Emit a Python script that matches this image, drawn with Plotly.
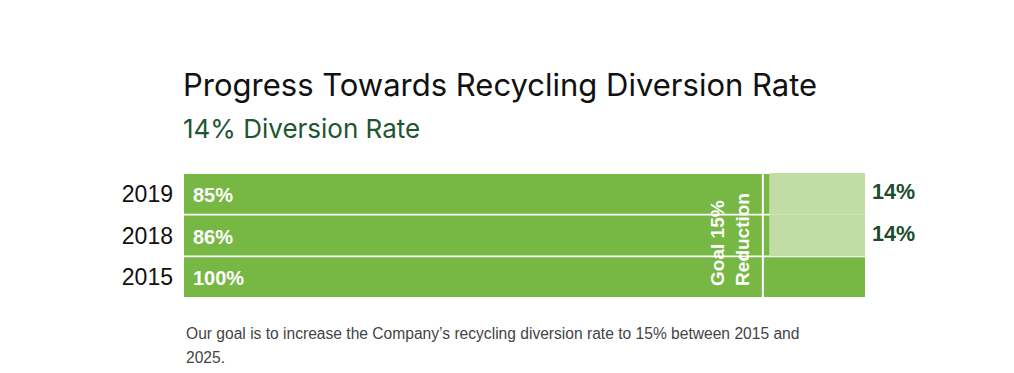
import plotly.graph_objects as go

years = ["2015", "2018", "2019"]
shown_pct = [100, 86, 85]
diversion_pct = [0, 14, 14]
goal_reduction = 15

dark = [100 - d for d in diversion_pct]

DARK = "#76b843"
LIGHT = "#c1dca4"
BODY = 8  # default HTML body margin

PT, PB = 173, 298  # plot top/bottom in page px
PH = PB - PT


def py(p):
    return (PB - p) / PH


fig = go.Figure()
fig.add_trace(go.Bar(
    y=years, x=dark, base=0, orientation="h", width=0.955,
    marker=dict(color=DARK, line=dict(width=0)),
    hoverinfo="skip",
))
fig.add_trace(go.Bar(
    y=[y for y, d in zip(years, diversion_pct) if d > 0],
    x=[d for d in diversion_pct if d > 0],
    base=[b for b, d in zip(dark, diversion_pct) if d > 0],
    orientation="h", width=1.0,
    marker=dict(color=LIGHT, line=dict(width=0)),
    hoverinfo="skip",
))

fig.add_shape(type="line", xref="x", yref="paper", x0=100 - goal_reduction,
              x1=100 - goal_reduction, y0=0, y1=1,
              line=dict(color="white", width=2), layer="above")

for i, (v, d) in enumerate(zip(shown_pct, diversion_pct)):
    fig.add_annotation(x=0, y=i, xref="x", yref="y", text=f"<b>{v}%</b>",
                       showarrow=False, xanchor="left", xshift=7, yshift=-1,
                       font=dict(family="Liberation Sans", size=20, color="white"))
    if d > 0:
        fig.add_annotation(x=100, y=i, xref="x", yref="y", text=f"<b>{d}%</b>",
                           showarrow=False, xanchor="left", xshift=5, yshift=2,
                           font=dict(family="Liberation Sans", size=21.5, color="#1a4d2e"))

fig.add_annotation(x=80.2, y=0.466, xref="x", yref="paper",
                   text=f"<b>Goal {goal_reduction}%<br>Reduction</b>",
                   textangle=-90, align="left", showarrow=False,
                   font=dict(family="Liberation Sans", size=19, color="white"))

fig.add_annotation(x=0, y=py(84), xref="paper", yref="paper",
                   text="Progress Towards Recycling Diversion Rate", showarrow=False,
                   xanchor="left", yanchor="middle", xshift=-3,
                   font=dict(family="Inter", size=31, color="#111111"))
fig.add_annotation(x=0, y=py(129), xref="paper", yref="paper",
                   text="14% Diversion Rate", showarrow=False,
                   xanchor="left", yanchor="middle", xshift=-3,
                   font=dict(family="Inter", size=26, color="#1e5631"))
for line, yy in [("Our goal is to increase the Company\u2019s recycling diversion rate to 15% between 2015 and", 333),
                 ("2025.", 357)]:
    fig.add_annotation(x=0, y=py(yy), xref="paper", yref="paper",
                       text=line, showarrow=False, xanchor="left", yanchor="middle",
                       font=dict(family="Liberation Sans", size=15.6, color="#444444"))

fig.update_layout(
    width=1014, height=373,
    margin=dict(l=184 - BODY, r=1014 + BODY - 865, t=PT - BODY, b=373 + BODY - PB),
    paper_bgcolor="white", plot_bgcolor="white",
    barmode="overlay", showlegend=False,
    xaxis=dict(range=[0, 100], visible=False, fixedrange=True),
    yaxis=dict(type="category", categoryorder="array", categoryarray=years,
               range=[-0.5, 2.5],
               showgrid=False, zeroline=False, showline=False, ticks="",
               ticklabelstandoff=10,
               tickfont=dict(family="Liberation Sans", size=23, color="#111111")),
)

fig.write_html("out.html")
